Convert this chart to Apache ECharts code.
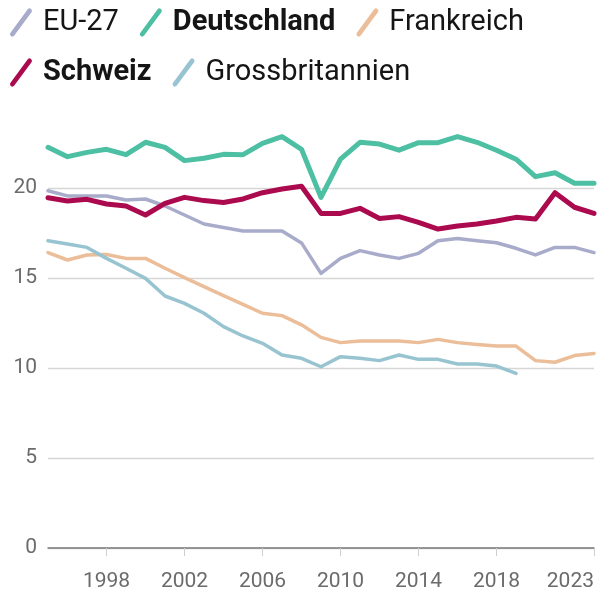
<!DOCTYPE html>
<html>
<head>
<meta charset="utf-8">
<script src="https://cdn.jsdelivr.net/npm/echarts@6/dist/echarts.min.js"></script>
<style>
html,body{margin:0;padding:0;background:#fff;}
#chart{width:603px;height:592px;}
</style>
</head>
<body>
<div id="chart"></div>
<script>
const years = [1995,1996,1997,1998,1999,2000,2001,2002,2003,2004,2005,2006,2007,2008,2009,2010,2011,2012,2013,2014,2015,2016,2017,2018,2019,2020,2021,2022,2023];
const eu27 = [19.85,19.56,19.56,19.56,19.33,19.39,19.0,18.5,18.0,17.81,17.61,17.61,17.61,16.95,15.26,16.09,16.52,16.28,16.09,16.37,17.07,17.2,17.07,16.96,16.65,16.28,16.7,16.7,16.41];
const deutschland = [22.26,21.74,21.98,22.15,21.85,22.54,22.26,21.52,21.65,21.87,21.85,22.48,22.85,22.15,19.48,21.6,22.54,22.44,22.1,22.52,22.52,22.85,22.54,22.1,21.6,20.63,20.85,20.26,20.26];
const frankreich = [16.41,16.0,16.28,16.31,16.09,16.09,15.54,15.02,14.52,14.02,13.54,13.04,12.91,12.4,11.7,11.41,11.5,11.5,11.5,11.41,11.59,11.41,11.31,11.22,11.22,10.41,10.32,10.69,10.81];
const schweiz = [19.46,19.28,19.37,19.11,19.0,18.5,19.15,19.48,19.3,19.19,19.39,19.74,19.94,20.1,18.59,18.59,18.87,18.31,18.41,18.09,17.72,17.89,18.0,18.17,18.37,18.28,19.74,18.93,18.59];
const grossbritannien = [17.07,16.89,16.7,16.09,15.54,14.98,14.0,13.59,13.04,12.3,11.78,11.37,10.72,10.54,10.07,10.63,10.54,10.41,10.72,10.48,10.48,10.22,10.22,10.11,9.7];
const xTickLabels = [1998,2002,2006,2010,2014,2018,2023];
const yTicks = [0,5,10,15,20];

const legendOrder = ['EU-27','Deutschland','Frankreich','Schweiz','Grossbritannien'];
const boldNames = ['Deutschland','Schweiz'];

function pairs(vals){ return vals.map((v,i)=>[years[i], v]); }

const chart = echarts.init(document.getElementById('chart'), null, {renderer:'canvas'});
const FONT = 'Roboto, "Noto Sans", sans-serif';
const iconPath = 'path://M2,24.5 L18.5,2 A2.3,2.3 0 0 1 22.2,4.6 L5.7,27 A2.3,2.3 0 0 1 2,24.5 Z';

function mk(name, data, color, width, z){
  return {
    name, type:'line', data: pairs(data), z,
    showSymbol:false, symbol:'none', smooth:false,
    lineStyle:{color, width, cap:'round', join:'round'},
    itemStyle:{color},
    emphasis:{disabled:true}
  };
}

chart.setOption({
  animation:false,
  backgroundColor:'#fff',
  legend:{
    data: legendOrder,
    left: 10, top: 8, padding: 0,
    width: 550,
    itemWidth: 24, itemHeight: 28, itemGap: 21,
    icon: iconPath,
    selectedMode:false,
    formatter: n => boldNames.includes(n) ? '{b|'+n+'}' : '{n|'+n+'}',
    textStyle:{
      fontFamily: FONT, fontSize: 29, color:'#151515', padding:[0,0,0,5],
      rich:{
        b:{fontFamily: FONT, fontSize:29, fontWeight:'bold', color:'#151515'},
        n:{fontFamily: FONT, fontSize:29, color:'#151515'}
      }
    }
  },
  grid:{left:48, right:9, top:98, bottom:44, containLabel:false},
  xAxis:{
    type:'value', min:1995, max:2023,
    axisLine:{show:true, onZero:false, lineStyle:{color:'#7a7a7a', width:1.5}},
    axisTick:{show:true, customValues: xTickLabels, length:8, lineStyle:{color:'#cfcfcf', width:1}},
    axisLabel:{customValues: xTickLabels, fontFamily: FONT, fontSize:21, color:'#6b6b6b', margin:23, alignMaxLabel:'right',
      formatter: v => String(v)},
    splitLine:{show:false}
  },
  yAxis:{
    type:'value', min:0, max:25, interval:5,
    axisLine:{show:false}, axisTick:{show:false},
    axisLabel:{fontFamily: FONT, fontSize:21, color:'#6b6b6b', margin:11, showMaxLabel:false,
      formatter: v => yTicks.includes(v) ? String(v) : ''},
    splitLine:{show:true, lineStyle:{color:['#d6d6d6','#d6d6d6','#d6d6d6','#d6d6d6','#d6d6d6','rgba(0,0,0,0)'], width:1.3}}
  },
  series:[
    mk('EU-27', eu27, '#a8abca', 3.5, 2),
    mk('Frankreich', frankreich, '#ebbd98', 3.5, 2),
    mk('Grossbritannien', grossbritannien, '#97c4d0', 3.5, 2),
    mk('Deutschland', deutschland, '#4dbfa3', 5, 3),
    mk('Schweiz', schweiz, '#ab0a4e', 5, 4)
  ]
});
</script>
</body>
</html>
